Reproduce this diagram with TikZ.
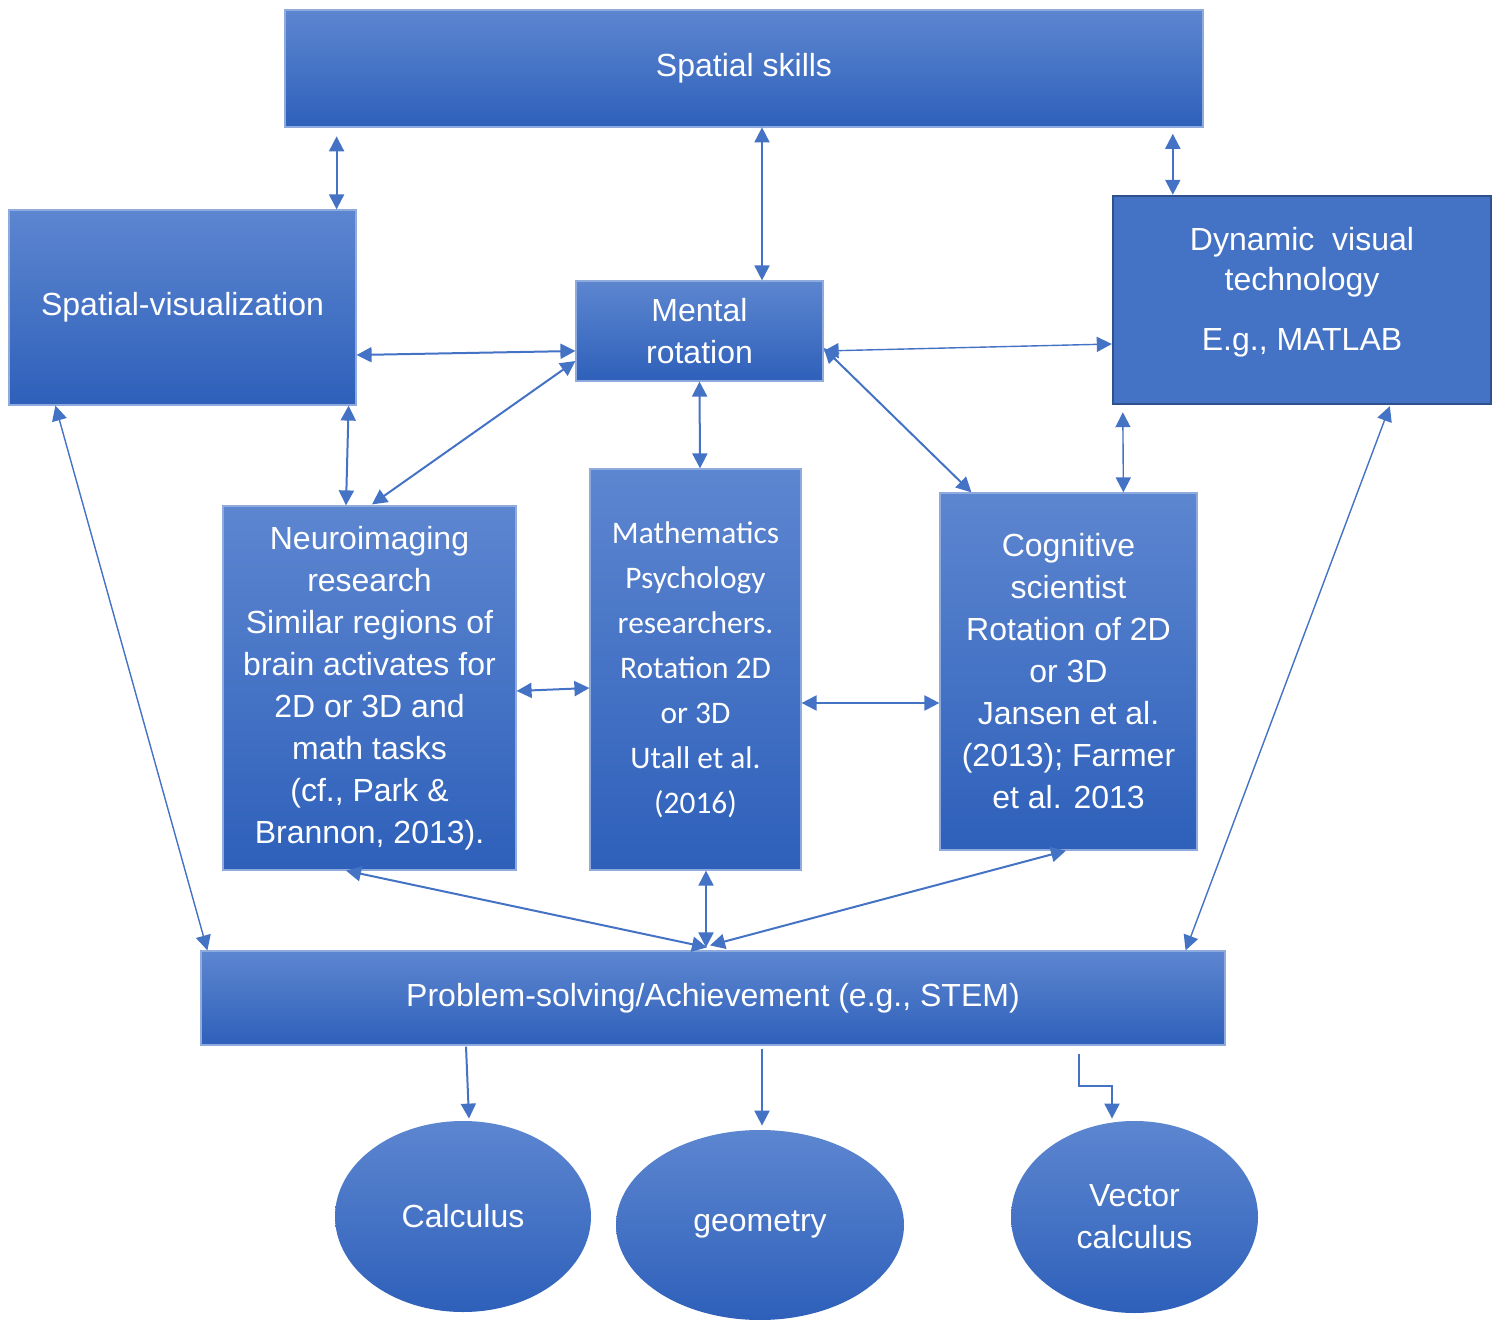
\documentclass[tikz,border=0pt]{standalone}
\usepackage{fontspec}
\setmainfont{Liberation Sans}
\newfontfamily\carlfont{Carlito}
\usetikzlibrary{arrows.meta,shapes.geometric,calc}
\definecolor{topblue}{RGB}{93,134,208}
\definecolor{botblue}{RGB}{46,96,186}
\definecolor{midblue}{RGB}{68,114,196}
\definecolor{edgeblue}{RGB}{143,170,220}
\definecolor{darkedge}{RGB}{47,82,143}
\tikzset{
  gbox/.style={rectangle, draw=edgeblue, line width=0.6pt, top color=topblue, bottom color=botblue,
    text=white, align=center, inner sep=0pt, font=\fontsize{16}{21}\selectfont},
  gell/.style={ellipse, draw=none, top color=topblue, bottom color=botblue,
    text=white, align=center, inner sep=0pt, font=\fontsize{16}{21}\selectfont},
  dbl/.style={draw=midblue, line width=1pt, {Triangle[length=7.5pt,width=7.5pt]}-{Triangle[length=7.5pt,width=7.5pt]}},
  thin dbl/.style={dbl, line width=0.7pt},
  sgl/.style={draw=midblue, line width=1pt, -{Triangle[length=7.5pt,width=7.5pt]}},
}
\begin{document}
\begin{tikzpicture}[x=0.5pt,y=-0.5pt]
\useasboundingbox (0,0) rectangle (1499,1320);
% boxes
\node[gbox, minimum width=459pt, minimum height=58.5pt] (ss) at (744,68.5) {Spatial skills};
\node[gbox, minimum width=173.5pt, minimum height=97.5pt] (sv) at (182.5,307.5) {Spatial-visualization};
\node[gbox, minimum width=123.5pt, minimum height=50pt] (mr) at (699.5,331) {Mental\\rotation};
\node[rectangle, draw=darkedge, line width=1.2pt, fill=midblue, minimum width=189pt, minimum height=104pt] (dv) at (1302,300) {};
\node[text=white, align=center, font=\fontsize{16}{20}\selectfont] (dvt) at (1302,292.5) {Dynamic\ \ visual\\technology\\[10pt]E.g., MATLAB};
\node[gbox, minimum width=146.5pt, minimum height=182pt] (ni) at (369.5,688) {Neuroimaging\\research\\Similar regions of\\brain activates for\\2D or 3D and\\math tasks\\(cf., Park \&\\Brannon, 2013).};
\node[gbox, minimum width=105.5pt, minimum height=200.5pt, font=\carlfont\fontsize{15.7}{22.5}\selectfont] (ma) at (695.5,669.5) {Mathematics\\Psychology\\researchers.\\Rotation 2D\\or 3D\\Utall et al.\\(2016)};
\node[gbox, minimum width=128.5pt, minimum height=178.5pt] (cs) at (1068.5,671.5) {Cognitive\\scientist\\Rotation of 2D\\or 3D\\Jansen et al.\\(2013); Farmer\\et al. 2013};
\node[gbox, minimum width=512pt, minimum height=47pt] (ps) at (713,998) {Problem-solving/Achievement (e.g., STEM)};
% ellipses
\node[gell, minimum width=128pt, minimum height=95.5pt] (ca) at (463,1216.5) {Calculus};
\node[gell, minimum width=144pt, minimum height=95pt, text depth=4pt] (ge) at (760,1225) {geometry};
\node[gell, minimum width=123.5pt, minimum height=96pt] (vc) at (1134.5,1217) {Vector\\calculus};
% connectors
\draw[dbl] ($(sv.north east)+(-20,-73)$) -- ($(sv.north east)+(-20,0)$);
\draw[dbl] ($(mr.north)+(62.5,-153)$) -- ($(mr.north)+(62.5,0)$);
\draw[dbl] ($(dv.north west)+(61,-61)$) -- ($(dv.north west)+(61,0)$);
\draw[dbl] ($(sv.east)+(0,47.5)$) -- ($(mr.west)+(0,20)$);
\draw[thin dbl] ($(mr.east)+(0,20)$) -- ($(dv.west)+(0,44)$);
\draw[dbl] ($(sv.south east)+(-8,0)$) -- ($(ni.north)+(-23.5,0)$);
\draw[dbl] ($(mr.west)+(0,30)$) -- ($(ni.north)+(2.5,-1)$);
\draw[dbl] (mr.south) -- ($(ma.north)+(4.5,0)$);
\draw[dbl] ($(mr.east)+(0,17)$) -- ($(cs.north west)+(32,0)$);
\draw[thin dbl] ($(dv.south west)+(11,7)$) -- ($(cs.north west)+(184,0)$);
\draw[dbl] ($(ni.east)+(0,3)$) -- ($(ma.west)+(0,18.5)$);
\draw[dbl] ($(ma.east)+(0,33.5)$) -- ($(cs.west)+(0,31.5)$);
\draw[thin dbl] ($(sv.south west)+(47,0)$) -- ($(ps.north west)+(7,0)$);
\draw[thin dbl] ($(dv.south west)+(278,1)$) -- ($(ps.north east)+(-40,0)$);
\draw[dbl] ($(ni.south)+(-23.5,0)$) -- ($(ps.north)+(-6,-3)$);
\draw[dbl] ($(ma.south)+(10.5,0)$) -- ($(ps.north)+(-7,-3)$);
\draw[dbl] ($(cs.south)+(-2.5,0)$) -- ($(ps.north)+(-3,-5)$);
\draw[sgl] ($(ps.south)+(-247,1)$) -- ($(ca.north)+(6,-2)$);
\draw[sgl] ($(ps.south)+(49,3)$) -- ($(ge.north)+(2,-4)$);
\coordinate (psv) at ($(ps.south)+(366,8)$);
\coordinate (vct) at ($(vc.north)+(-22.5,-2)$);
\draw[sgl] (psv) -- ++(0,32) -| (vct);
\end{tikzpicture}
\end{document}
